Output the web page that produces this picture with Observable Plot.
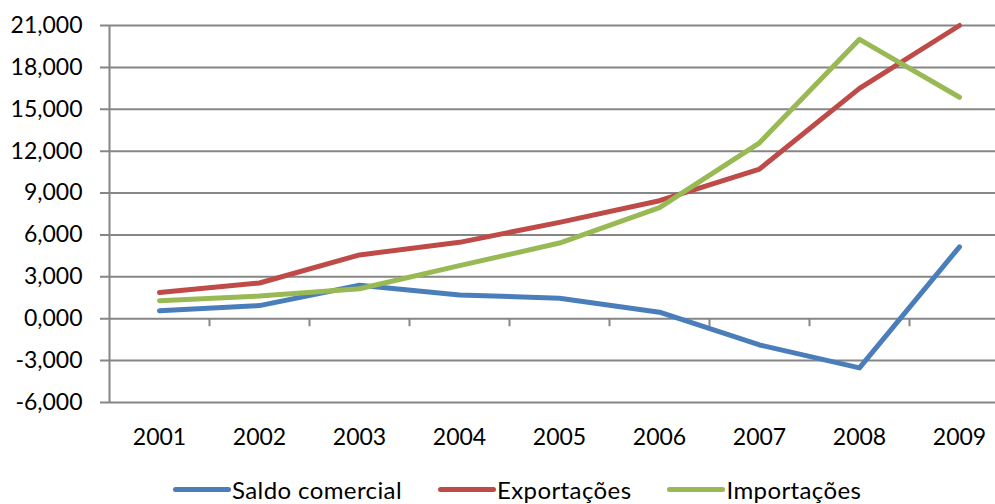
<!DOCTYPE html>
<html><head><meta charset="utf-8">
<script src="https://cdn.jsdelivr.net/npm/d3@7"></script>
<script src="https://cdn.jsdelivr.net/npm/@observablehq/plot@0.6"></script>
<style>
html,body{margin:0;padding:0;background:#fff;overflow:hidden;}
#wrap{position:relative;width:995px;height:504px;overflow:hidden;font-family:Lato,sans-serif;}
#chart svg{max-width:none !important;}
#legend{position:absolute;left:173px;top:476px;display:flex;gap:36px;align-items:center;font-size:24px;letter-spacing:0.4px;color:#000;line-height:27px;white-space:nowrap}
.item{display:flex;align-items:center}
.sw{width:58px;height:5px;border-radius:3px;margin-right:1px}
</style></head><body><div id="wrap"><div id="chart"></div><div id="legend"></div></div>
<script>
const years = [2001, 2002, 2003, 2004, 2005, 2006, 2007, 2008, 2009];
const saldoComercial = [570, 940, 2400, 1700, 1470, 470, -1880, -3520, 5150];
const exportacoes = [1880, 2560, 4570, 5470, 6900, 8450, 10720, 16500, 21000];
const importacoes = [1290, 1620, 2150, 3800, 5420, 7960, 12600, 20010, 15860];
const seriesNames = ["Saldo comercial", "Exportações", "Importações"];
const seriesColors = ["#4A7EBB", "#BE4B48", "#98B954"];
const yTicks = [-6000, -3000, 0, 3000, 6000, 9000, 12000, 15000, 18000, 21000];
const yTickLabels = ["-6,000", "-3,000", "0,000", "3,000", "6,000", "9,000", "12,000", "15,000", "18,000", "21,000"];

const seriesValues = [saldoComercial, exportacoes, importacoes];
const data = [];
seriesNames.forEach((name, i) => years.forEach((yr, j) => data.push({year: yr, value: seriesValues[i][j], series: name})));
const boundaries = d3.range(years.length + 1).map(i => years[0] - 0.5 + i);

const plot = Plot.plot({
  width: 1009, height: 470,
  marginLeft: 109, marginRight: 0, marginTop: 25, marginBottom: 68,
  style: {fontFamily: "Lato, sans-serif", fontSize: "23px", color: "#000", background: "transparent", overflow: "visible", maxWidth: "none"},
  x: {type: "linear", domain: [years[0] - 0.5, years[years.length - 1] + 0.5], label: null},
  y: {domain: [-6000, 21000], label: null},
  color: {domain: seriesNames, range: seriesColors},
  marks: [
    Plot.ruleY(yTicks, {stroke: "#868686", strokeWidth: 2, insetLeft: -9}),
    Plot.ruleX([boundaries[0]], {stroke: "#868686", strokeWidth: 2}),
    Plot.ruleX(boundaries.slice(1), {y1: 0, y2: 0, insetBottom: -8, stroke: "#868686", strokeWidth: 2}),
    Plot.line(data, {x: "year", y: "value", z: "series", stroke: "series", strokeWidth: 5, strokeLinecap: "round", strokeLinejoin: "round"}),
    Plot.axisY({ticks: yTicks, tickFormat: d => yTickLabels[yTicks.indexOf(d)], tickSize: 0, tickPadding: 27, fontSize: 23, label: null}),
    Plot.axisX({ticks: years, tickFormat: d => String(d), tickSize: 0, tickPadding: 26, fontSize: 23, label: null})
  ]
});
document.getElementById("chart").appendChild(plot);

const legend = document.getElementById("legend");
seriesNames.forEach((name, i) => {
  const item = document.createElement("div");
  item.className = "item";
  const sw = document.createElement("span");
  sw.className = "sw";
  sw.style.background = seriesColors[i];
  const t = document.createElement("span");
  t.textContent = name;
  item.appendChild(sw); item.appendChild(t);
  legend.appendChild(item);
});
</script>
</body></html>
